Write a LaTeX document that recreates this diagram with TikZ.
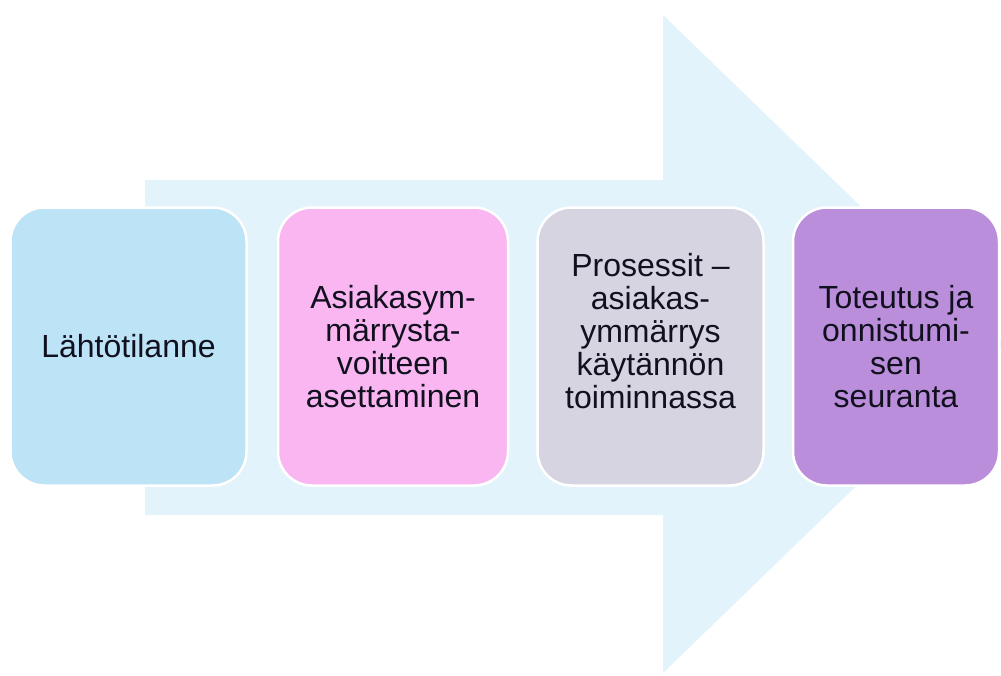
\documentclass[tikz,border=0pt]{standalone}
\usepackage{fontspec}
\setmainfont{Liberation Sans}
\definecolor{arrowfill}{HTML}{E3F3FB}
\definecolor{stepA}{HTML}{BDE3F6}
\definecolor{stepB}{HTML}{F9B6F1}
\definecolor{stepC}{HTML}{D6D4E1}
\definecolor{stepD}{HTML}{BB8EDC}
\definecolor{inktext}{HTML}{10101E}
\begin{document}
\begin{tikzpicture}[x=1pt,y=-1pt,
  stepbox/.style={rectangle, rounded corners=34pt, draw=white, line width=2.5pt,
    minimum height=278pt, inner sep=0pt, minimum width=#1pt},
  steptext/.style={align=center, text=inktext, inner sep=0pt,
    font=\fontsize{32}{33}\selectfont}]
\useasboundingbox (0,0) rectangle (1001,675);
\clip (0,0) rectangle (1001,675);
% large background arrow
\fill[arrowfill] (145,180) -- (663,180) -- (663,15) -- (1003,344)
  -- (663,673) -- (663,515) -- (145,515) -- cycle;
% the four process steps
\node[stepbox=236, fill=stepA] (s1) at (128.5,346.5) {};
\node[stepbox=230, fill=stepB] (s2) at (393,346.5) {};
\node[stepbox=226, fill=stepC] (s3) at (650.5,346.5) {};
\node[stepbox=206, fill=stepD] (s4) at (896,346.5) {};
% step texts
\node[steptext] (t1) at (s1.center) {Lähtötilanne};
\node[steptext] (t2) at (s2.center) {Asiakasym-\\märrysta-\\voitteen\\asettaminen};
\node[steptext] (t3) at ([yshift=15pt]s3.center) {Prosessit –\\asiakas-\\ymmärrys\\käytännön\\toiminnassa};
\node[steptext] (t4) at (s4.center) {Toteutus ja\\onnistumi-\\sen\\seuranta};
\end{tikzpicture}
\end{document}
